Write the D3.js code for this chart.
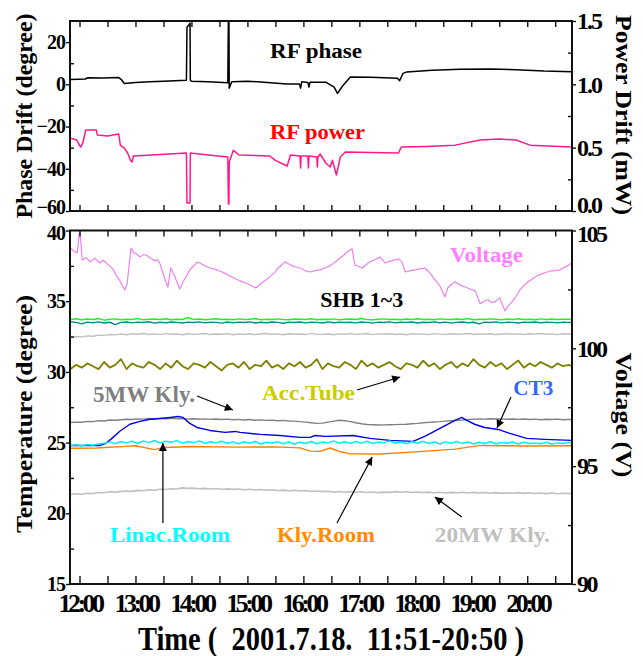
<!DOCTYPE html>
<html><head><meta charset="utf-8">
<script src="https://cdn.jsdelivr.net/npm/d3@7"></script>
<style>
body{margin:0;background:#fff;}
svg text{font-family:"Liberation Serif","Times New Roman",serif;font-weight:bold;}
</style></head><body>
<svg id="chart" width="643" height="656"></svg>
<script>
// ---------------- DATA ----------------
// time in decimal hours (2001.7.18, 11:51 - 20:50)
const timeTicks = [12,13,14,15,16,17,18,19,20];
const timeTickLabels = ["12:00","13:00","14:00","15:00","16:00","17:00","18:00","19:00","20:00"];
const timeMinorTicks = [12.5,13.5,14.5,15.5,16.5,17.5,18.5,19.5,20.5];
const phaseTicks = [-60,-40,-20,0,20];
const phaseMinorTicks = [-50,-30,-10,10];
const powerTicks = [0,0.5,1.0,1.5];
const powerTickLabels = ["0.0","0.5","1.0","1.5"];
const powerMinorTicks = [0.25,0.75,1.25];
const tempTicks = [15,20,25,30,35,40];
const tempMinorTicks = [17.5,22.5,27.5,32.5,37.5];
const voltTicks = [90,95,100,105];
const voltMinorTicks = [92.5,97.5,102.5];

// RF phase drift (degree)
const phaseTimes = [11.84,12.10,12.15,12.40,12.70,12.75,12.80,13.00,13.25,13.50,13.91,13.92,13.95,13.975,13.98,14.00,14.30,14.65,14.66,14.67,14.675,14.72,15.00,15.30,15.70,15.93,15.95,15.97,16.08,16.10,16.12,16.40,16.55,16.61,16.70,16.84,17.20,17.68,17.72,17.78,17.85,18.30,18.80,19.35,19.80,20.30,20.80];
const phaseValues = [2.3,2.5,3.1,3.0,3.2,2.2,0.4,0.9,1.2,1.5,1.9,27,28,29,1.9,1.5,1.2,0.7,31,31,-1.8,1.2,1.5,1.0,0.2,0.2,-1.8,1.2,0.9,-1.3,1.0,1.0,-1.3,-4.3,-0.8,3.5,3.3,2.9,1.7,5.2,5.9,6.7,7.1,7.3,6.9,6.3,6.0];

// RF power drift (mW)
const powerTimes = [11.84,11.95,12.02,12.06,12.11,12.30,12.32,12.50,12.70,12.73,12.80,12.86,12.91,12.94,12.96,13.30,13.60,13.91,13.92,13.975,13.98,14.30,14.65,14.66,14.67,14.675,14.75,14.85,15.40,15.50,15.71,15.77,15.94,15.95,15.96,16.08,16.09,16.10,16.24,16.25,16.26,16.30,16.40,16.48,16.52,16.59,16.66,16.75,17.70,17.75,18.20,18.71,19.16,19.50,19.80,20.05,20.80];
const powerValues = [0.574,0.56,0.505,0.537,0.64,0.64,0.60,0.592,0.608,0.52,0.497,0.458,0.40,0.387,0.434,0.442,0.45,0.458,0.063,0.063,0.458,0.442,0.426,0.055,0.055,0.387,0.48,0.442,0.434,0.40,0.355,0.442,0.434,0.34,0.434,0.434,0.34,0.434,0.426,0.347,0.426,0.45,0.379,0.347,0.40,0.284,0.426,0.466,0.458,0.505,0.51,0.52,0.56,0.568,0.56,0.52,0.505];

// Voltage (V)
const voltTimes = [11.84,11.91,11.96,12.00,12.02,12.05,12.12,12.19,12.24,12.28,12.33,12.37,12.42,12.46,12.50,12.54,12.60,12.65,12.70,12.76,12.81,12.85,12.92,12.97,13.02,13.08,13.15,13.22,13.28,13.35,13.40,13.44,13.53,13.58,13.63,13.70,13.79,13.86,13.92,13.97,14.02,14.06,14.10,14.15,14.24,14.33,14.42,14.51,14.60,14.69,14.78,14.87,14.96,15.05,15.15,15.26,15.33,15.40,15.48,15.55,15.62,15.67,15.74,15.80,15.87,15.94,16.03,16.12,16.21,16.30,16.39,16.48,16.57,16.66,16.72,16.78,16.87,16.92,16.98,17.05,17.12,17.19,17.28,17.37,17.46,17.55,17.64,17.70,17.76,17.82,17.91,18.00,18.08,18.17,18.24,18.30,18.37,18.44,18.53,18.58,18.64,18.71,18.80,18.89,18.98,19.07,19.16,19.23,19.30,19.36,19.42,19.51,19.60,19.66,19.73,19.80,19.87,19.94,20.01,20.08,20.14,20.20,20.26,20.33,20.41,20.50,20.58,20.65,20.72,20.80];
const voltValues = [104.26,104.10,104.05,104.98,104.6,103.75,103.85,103.67,103.75,103.83,103.68,103.62,103.74,103.67,103.58,103.5,103.35,103.11,102.95,102.69,102.48,102.73,104.26,104.05,104.0,103.88,103.98,103.92,103.80,103.71,103.76,103.58,102.9,102.6,103.41,103.07,102.52,102.86,103.10,103.33,103.45,103.54,103.66,103.62,103.50,103.41,103.36,103.28,103.18,103.07,102.96,102.86,102.78,102.69,102.56,102.78,102.90,103.03,103.20,103.41,103.55,103.67,103.58,103.5,103.45,103.41,103.30,103.24,103.30,103.33,103.42,103.5,103.66,103.83,103.95,104.09,104.22,103.54,103.48,103.41,103.55,103.67,103.76,103.88,103.62,103.70,103.75,103.80,103.67,103.24,103.30,103.33,103.37,103.41,103.25,103.07,102.85,102.65,102.18,102.56,102.70,102.82,102.68,102.6,102.52,102.44,101.89,102.00,102.06,101.94,101.97,102.14,101.59,101.80,101.97,102.20,102.48,102.66,102.82,102.92,103.03,103.10,103.16,103.22,103.28,103.30,103.33,103.42,103.5,103.62];

// regular sample times for the temperature records
const sampleTimes = [11.84,11.94,12.04,12.14,12.24,12.34,12.44,12.54,12.64,12.74,
12.84,12.94,13.04,13.14,13.24,13.34,13.44,13.54,13.64,13.74,
13.84,13.94,14.04,14.14,14.24,14.34,14.44,14.54,14.64,14.74,
14.84,14.94,15.04,15.14,15.24,15.34,15.44,15.54,15.64,15.74,
15.84,15.94,16.04,16.14,16.24,16.34,16.44,16.54,16.64,16.74,
16.84,16.94,17.04,17.14,17.24,17.34,17.44,17.54,17.64,17.74,
17.84,17.94,18.04,18.14,18.24,18.34,18.44,18.54,18.64,18.74,
18.84,18.94,19.04,19.14,19.24,19.34,19.44,19.54,19.64,19.74,
19.84,19.94,20.04,20.14,20.24,20.34,20.44,20.54,20.64,20.74,20.80];

const shbGreen = [33.70,33.76,33.68,33.74,33.70,33.78,33.66,33.72,33.75,33.69,
33.73,33.70,33.77,33.68,33.72,33.74,33.70,33.76,33.69,33.73,
33.71,33.85,33.70,33.74,33.68,33.72,33.76,33.70,33.73,33.69,
33.75,33.70,33.72,33.78,33.68,33.73,33.70,33.75,33.71,33.69,
33.74,33.72,33.70,33.76,33.69,33.73,33.71,33.75,33.68,33.72,
33.74,33.70,33.77,33.71,33.69,33.73,33.75,33.70,33.72,33.68,
33.74,33.71,33.76,33.70,33.73,33.69,33.75,33.72,33.70,33.74,
33.71,33.77,33.69,33.73,33.70,33.75,33.72,33.68,33.74,33.71,
33.76,33.70,33.73,33.69,33.75,33.71,33.74,33.70,33.72,33.73,33.71];
const shbTeal = [33.55,33.50,33.40,33.52,33.48,33.54,33.46,33.51,33.35,33.50,
33.53,33.47,33.52,33.49,33.55,33.45,33.51,33.48,33.53,33.50,
33.46,33.52,33.49,33.54,33.47,33.51,33.50,33.45,33.53,33.48,
33.52,33.49,33.54,33.46,33.51,33.48,33.53,33.50,33.44,33.52,
33.49,33.53,33.47,33.51,33.50,33.46,33.54,33.48,33.52,33.49,
33.51,33.47,33.53,33.50,33.45,33.52,33.49,33.54,33.47,33.51,
33.50,33.53,33.46,33.51,33.49,33.54,33.48,33.52,33.45,33.50,
33.53,33.48,33.51,33.40,33.52,33.49,33.54,33.47,33.51,33.50,
33.46,33.52,33.49,33.53,33.48,33.51,33.50,33.47,33.52,33.49,33.50];
const shbGray = [32.45,32.50,32.48,32.55,32.52,32.60,32.58,32.64,32.62,32.68,
32.63,32.70,32.66,32.72,32.65,32.69,32.64,32.71,32.66,32.68,
32.63,32.70,32.65,32.69,32.72,32.64,32.68,32.66,32.71,32.63,
32.69,32.65,32.70,32.64,32.68,32.72,32.66,32.69,32.63,32.70,
32.66,32.68,32.64,32.71,32.67,32.65,32.70,32.63,32.69,32.66,
32.71,32.65,32.68,32.72,32.64,32.69,32.66,32.70,32.65,32.68,
32.63,32.70,32.66,32.69,32.64,32.71,32.67,32.65,32.70,32.66,
32.68,32.72,32.65,32.69,32.66,32.70,32.64,32.68,32.71,32.66,
32.69,32.65,32.70,32.67,32.72,32.66,32.69,32.64,32.70,32.68,32.67];
const accTube = [30.2,30.5,30.3,30.6,30.4,30.2,30.7,30.3,30.5,30.9,
30.2,30.6,30.4,30.3,30.7,30.5,30.2,30.6,30.3,30.8,
30.4,30.2,30.6,30.5,30.3,30.7,30.4,30.1,30.5,30.6,
30.3,30.7,30.2,30.5,30.4,30.8,30.3,30.5,30.2,30.6,
30.4,30.7,30.3,30.5,30.9,30.2,30.6,30.4,30.3,30.7,
30.5,30.2,30.8,30.4,30.6,30.3,30.5,30.7,30.4,30.2,
30.6,30.5,30.3,30.8,30.4,30.6,30.2,30.5,30.7,30.3,
30.6,30.4,30.9,30.5,30.3,30.7,30.4,30.6,30.2,30.5,
30.8,30.3,30.6,30.4,30.7,30.5,30.3,30.6,30.4,30.5,30.4];
const kly5MW = [26.42,26.45,26.44,26.50,26.48,26.55,26.53,26.60,26.58,26.62,
26.65,26.63,26.68,26.66,26.70,26.67,26.72,26.69,26.71,26.68,
26.70,26.66,26.69,26.65,26.68,26.64,26.67,26.63,26.66,26.62,
26.64,26.60,26.63,26.58,26.61,26.57,26.59,26.55,26.57,26.53,
26.52,26.48,26.45,26.40,26.36,26.38,26.45,26.52,26.58,26.55,
26.48,26.40,26.33,26.28,26.26,26.24,26.25,26.26,26.27,26.29,
26.30,26.33,26.36,26.40,26.43,26.46,26.48,26.52,26.55,26.58,
26.60,26.63,26.65,26.68,26.66,26.69,26.67,26.68,26.65,26.67,
26.64,26.67,26.63,26.66,26.62,26.65,26.63,26.66,26.62,26.64,26.63];
const linacRoom = [24.80,24.85,24.78,24.86,24.82,24.90,24.95,25.05,24.92,25.08,
24.98,25.10,24.95,25.12,25.00,25.15,24.98,25.10,25.02,25.14,
24.96,25.08,25.00,25.12,24.95,25.06,24.98,25.10,24.94,25.05,
24.92,25.06,24.96,25.08,24.90,25.02,24.95,25.07,24.92,25.04,
24.90,25.03,24.94,25.08,24.92,25.05,24.98,25.12,24.95,25.06,
24.94,25.08,24.96,25.10,24.93,25.05,24.98,25.12,24.95,25.04,
24.92,25.06,24.96,25.09,24.94,25.04,24.90,25.05,24.95,25.08,
24.93,25.04,24.90,25.02,24.94,25.06,24.92,25.00,24.95,25.04,
24.90,25.02,24.94,24.98,24.92,25.03,24.90,24.98,24.94,25.00,24.95];
const kly20MW = [21.33,21.38,21.35,21.42,21.40,21.47,21.45,21.52,21.50,21.55,
21.58,21.55,21.62,21.60,21.66,21.63,21.70,21.68,21.74,21.72,
21.80,21.76,21.78,21.74,21.76,21.72,21.75,21.70,21.73,21.69,
21.72,21.67,21.70,21.65,21.68,21.63,21.66,21.61,21.64,21.60,
21.63,21.58,21.61,21.55,21.58,21.53,21.56,21.50,21.54,21.49,
21.53,21.48,21.52,21.47,21.51,21.46,21.50,21.48,21.53,21.49,
21.52,21.47,21.51,21.46,21.50,21.45,21.49,21.44,21.48,21.45,
21.49,21.44,21.48,21.43,21.47,21.42,21.46,21.41,21.45,21.42,
21.46,21.41,21.45,21.40,21.44,21.39,21.43,21.38,21.42,21.40,21.41];

// CT3 (degree)
const ct3Times = [11.84,12.37,12.47,12.58,12.72,12.90,13.08,13.26,13.44,13.62,13.76,13.85,13.97,14.10,14.33,14.60,14.78,14.87,15.23,15.58,15.94,16.12,16.21,16.39,16.89,17.19,17.55,17.96,18.17,18.44,18.71,18.83,18.92,19.07,19.24,19.48,19.69,19.99,20.31,20.80];
const ct3Values = [24.80,24.80,24.95,25.30,25.80,26.30,26.50,26.65,26.70,26.78,26.85,26.78,26.36,26.07,25.86,25.72,25.79,25.72,25.58,25.50,25.37,25.37,25.50,25.44,25.50,25.30,25.16,25.09,25.44,26.00,26.57,26.78,26.57,26.28,26.07,25.93,25.65,25.30,25.23,25.16];

// Kly.Room (degree)
const klyRoomTimes = [11.84,12.30,12.90,13.00,13.34,13.52,14.00,14.80,15.50,15.94,16.12,16.30,16.48,16.66,16.84,17.37,18.08,18.71,19.16,20.00,20.80];
const klyRoomValues = [24.60,24.62,24.75,24.78,24.50,24.65,24.72,24.68,24.70,24.63,24.40,24.38,24.62,24.35,24.20,24.19,24.36,24.54,24.80,24.76,24.78];

// ---------------- LAYOUT ----------------
const svg = d3.select("#chart");
const L = 70, R = 572;
const top1 = 21, bot1 = 211, top2 = 230.5, bot2 = 584;
const font = '"Liberation Serif","Times New Roman",serif';

const x = d3.scaleLinear().domain([11.83, 20.80]).range([L, R]);
const yPhase = d3.scaleLinear().domain([-60, 30]).range([bot1, top1]);
const yPower = d3.scaleLinear().domain([0, 1.5]).range([bot1, top1]);
const yTemp = d3.scaleLinear().domain([15, 40]).range([bot2, top2]);
const yVolt = d3.scaleLinear().domain([90, 105]).range([bot2, top2]);

const defs = svg.append("defs");
defs.append("clipPath").attr("id","clip1").append("rect")
  .attr("x",L).attr("y",top1).attr("width",R-L).attr("height",bot1-top1);
defs.append("clipPath").attr("id","clip2").append("rect")
  .attr("x",L).attr("y",top2).attr("width",R-L).attr("height",bot2-top2);
defs.append("marker").attr("id","arrow").attr("viewBox","0 0 10 10")
  .attr("refX",10).attr("refY",5).attr("markerWidth",9).attr("markerHeight",8)
  .attr("markerUnits","userSpaceOnUse").attr("orient","auto")
  .append("path").attr("d","M0,0 L10,5 L0,10 Z").attr("fill","#000");

function drawLine(g, times, values, yS, color, w) {
  const pts = d3.zip(times, values);
  g.append("path").datum(pts)
    .attr("fill","none").attr("stroke",color).attr("stroke-width",w)
    .attr("stroke-linejoin","round")
    .attr("d", d3.line().x(d=>x(d[0])).y(d=>yS(d[1])));
}

// ---------- top panel lines ----------
const g1 = svg.append("g").attr("clip-path","url(#clip1)");
drawLine(g1, powerTimes, powerValues, yPower, "#ff1a8c", 1.5);
drawLine(g1, phaseTimes, phaseValues, yPhase, "#000", 1.5);

// ---------- bottom panel lines ----------
const g2 = svg.append("g").attr("clip-path","url(#clip2)");
drawLine(g2, sampleTimes, kly20MW, yTemp, "#c0c0c0", 1.6);
drawLine(g2, sampleTimes, kly5MW, yTemp, "#808080", 1.4);
drawLine(g2, ct3Times, ct3Values, yTemp, "#0000e8", 1.4);
drawLine(g2, sampleTimes, linacRoom, yTemp, "#00f0f0", 1.5);
drawLine(g2, klyRoomTimes, klyRoomValues, yTemp, "#ff8000", 1.4);
drawLine(g2, sampleTimes, shbGray, yTemp, "#c0c0c0", 1.4);
drawLine(g2, sampleTimes, shbTeal, yTemp, "#008b8b", 1.4);
drawLine(g2, sampleTimes, shbGreen, yTemp, "#22ee22", 1.5);
drawLine(g2, sampleTimes, accTube, yTemp, "#808000", 1.8);
drawLine(g2, voltTimes, voltValues, yVolt, "#ee82ee", 1.2);

// ---------- frames & axes ----------
function styleAxis(sel, fontSize, ls) {
  sel.select(".domain").remove();
  sel.selectAll(".tick line").attr("stroke","#111").attr("stroke-width",1.4);
  sel.selectAll(".tick text").attr("fill","#000")
     .style("font-family",font).style("font-weight","bold")
     .style("font-size",fontSize+"px").style("letter-spacing",ls+"px");
}
function addAxis(axis, tx, ty, fs, ls) {
  return svg.append("g").attr("transform",`translate(${tx},${ty})`).call(axis)
    .call(s=>styleAxis(s, fs||20, ls||0));
}
const allTime = timeTicks.concat(timeMinorTicks);

// top panel
addAxis(d3.axisTop(x).tickValues(allTime).tickSize(-6).tickFormat(""), 0, top1);
addAxis(d3.axisBottom(x).tickValues(allTime).tickSize(-6).tickFormat(""), 0, bot1);
const axPhase = addAxis(d3.axisLeft(yPhase).tickValues(phaseTicks).tickSize(4).tickPadding(1).tickFormat(d3.format("d")), L, 0, 20, -1);
addAxis(d3.axisLeft(yPhase).tickValues(phaseMinorTicks).tickSize(-4).tickFormat(""), L, 0);
const axPower = addAxis(d3.axisRight(yPower).tickValues(powerTicks).tickSize(4).tickPadding(1).tickFormat((d,i)=>powerTickLabels[i]), R, 0, 24, -2);
addAxis(d3.axisRight(yPower).tickValues(powerMinorTicks).tickSize(-4).tickFormat(""), R, 0);

// bottom panel
addAxis(d3.axisTop(x).tickValues(allTime).tickSize(-6).tickFormat(""), 0, top2);
addAxis(d3.axisBottom(x).tickValues(timeTicks).tickSize(-8).tickPadding(10).tickFormat((d,i)=>timeTickLabels[i]), 0, bot2, 26, -3.5);
addAxis(d3.axisBottom(x).tickValues(timeMinorTicks).tickSize(-8).tickFormat(""), 0, bot2);
const axTemp = addAxis(d3.axisLeft(yTemp).tickValues(tempTicks).tickSize(4).tickPadding(1).tickFormat(d3.format("d")), L, 0, 20, -1);
addAxis(d3.axisLeft(yTemp).tickValues(tempMinorTicks).tickSize(-4).tickFormat(""), L, 0);
const axVolt = addAxis(d3.axisRight(yVolt).tickValues(voltTicks).tickSize(4).tickPadding(1).tickFormat(d3.format("d")), R, 0, 24, -2.5);
addAxis(d3.axisRight(yVolt).tickValues(voltMinorTicks).tickSize(-4).tickFormat(""), R, 0);

// nudge the labels where the two panels meet so they do not collide
axPhase.selectAll(".tick text").filter(d=>d===-60).attr("dy","0.12em");
axTemp.selectAll(".tick text").filter(d=>d===40).attr("dy","0.45em");
axPower.selectAll(".tick text").filter(d=>d===0).attr("dy","0.05em");
axVolt.selectAll(".tick text").filter(d=>d===105).attr("dy","0.45em");

// frames
[[top1,bot1],[top2,bot2]].forEach(([t,b])=>{
  svg.append("rect").attr("x",L).attr("y",t).attr("width",R-L).attr("height",b-t)
    .attr("fill","none").attr("stroke","#111").attr("stroke-width",2);
});

// ---------- titles ----------
function title(txt, tx, ty, rot, size, len) {
  svg.append("text").attr("transform",`translate(${tx},${ty}) rotate(${rot})`)
    .attr("text-anchor","middle").style("font-size",size+"px").attr("fill","#000")
    .attr("textLength",len).attr("lengthAdjust","spacingAndGlyphs").text(txt);
}
title("Phase Drift (degree)", 32, (top1+bot1)/2, -90, 24, 205);
title("Temperature (degree)", 32, 414, -90, 24, 238);
title("Power Drift (mW)", 616, 115, 90, 24, 200);
title("Voltage (V)", 616, 415, 90, 24, 125);
svg.append("text").attr("x",138).attr("y",650).style("font-size","34px")
  .style("white-space","pre").attr("xml:space","preserve")
  .attr("textLength",386).attr("lengthAdjust","spacingAndGlyphs")
  .text("Time (  2001.7.18.  11:51-20:50 )");

// ---------- annotations (data coordinates) ----------
const topLabels = [
  {text:"RF phase", t:15.404, v:12.5, color:"#000", size:20, len:92},
  {text:"RF power", t:15.404, v:-25.9, color:"#ff0000", size:20, len:95}
];
topLabels.forEach(a=>{
  svg.append("text").attr("x",x(a.t)).attr("y",yPhase(a.v)).attr("fill",a.color)
    .style("font-size",a.size+"px").attr("textLength",a.len)
    .attr("lengthAdjust","spacingAndGlyphs").text(a.text);
});
const bottomLabels = [
  {text:"Voltage", t:18.62, v:37.77, color:"#ff80ff", size:22, len:73},
  {text:"SHB 1~3", t:16.30, v:34.59, color:"#000", size:21, len:83},
  {text:"5MW Kly.", t:12.24, v:27.87, color:"#808080", size:24, len:102},
  {text:"Acc.Tube", t:15.26, v:28.01, color:"#cccc00", size:22, len:93},
  {text:"CT3", t:19.75, v:28.37, color:"#3366ff", size:22, len:40},
  {text:"Linac.Room", t:12.545, v:17.97, color:"#00ffff", size:22, len:120},
  {text:"Kly.Room", t:15.53, v:17.97, color:"#ff8c00", size:22, len:98},
  {text:"20MW Kly.", t:18.35, v:17.97, color:"#c0c0c0", size:22, len:115}
];
bottomLabels.forEach(a=>{
  svg.append("text").attr("x",x(a.t)).attr("y",yTemp(a.v)).attr("fill",a.color)
    .style("font-size",a.size+"px").attr("textLength",a.len)
    .attr("lengthAdjust","spacingAndGlyphs").text(a.text);
});
const arrows = [
  {t1:14.10, v1:28.30, t2:14.74, v2:27.31},
  {t1:16.96, v1:28.72, t2:17.73, v2:29.64},
  {t1:19.71, v1:28.22, t2:19.46, v2:26.03},
  {t1:13.49, v1:19.31, t2:13.49, v2:24.97},
  {t1:16.60, v1:19.31, t2:17.23, v2:23.98},
  {t1:18.83, v1:19.74, t2:18.35, v2:21.15}
];
arrows.forEach(a=>{
  svg.append("line").attr("x1",x(a.t1)).attr("y1",yTemp(a.v1))
    .attr("x2",x(a.t2)).attr("y2",yTemp(a.v2))
    .attr("stroke","#000").attr("stroke-width",1.2).attr("marker-end","url(#arrow)");
});
</script>
</body></html>
